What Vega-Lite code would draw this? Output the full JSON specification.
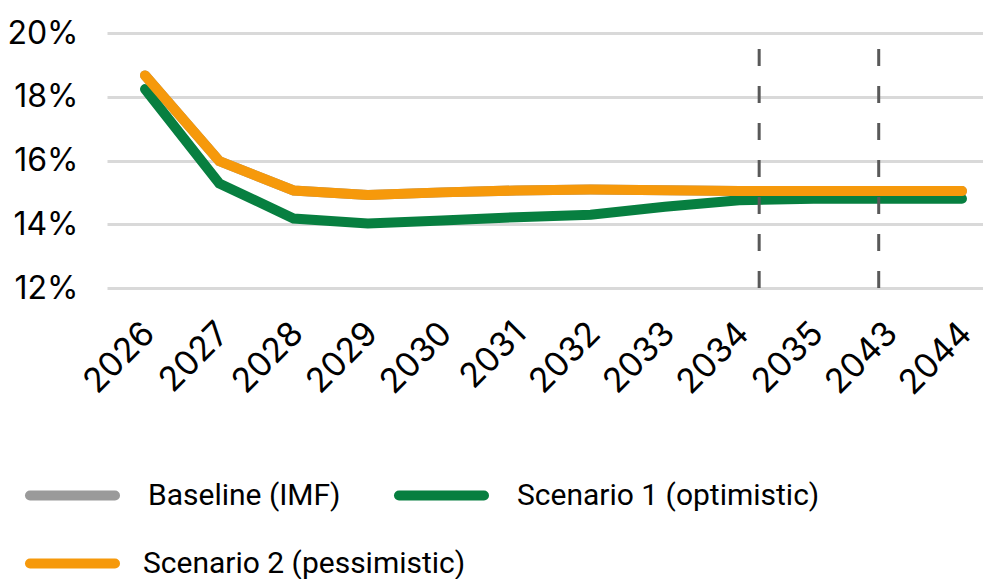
{
  "$schema": "https://vega.github.io/schema/vega-lite/v6.json",
  "width": 876,
  "height": 255,
  "autosize": {"type": "none"},
  "padding": {"left": 107, "top": 33, "right": 0, "bottom": 291},
  "background": "white",
  "config": {
    "view": {"stroke": null},
    "axis": {"labelColor": "#000000", "labelFont": "Inter", "labelFontSize": 32, "title": null, "domain": false, "ticks": false},
    "legend": {
      "title": null,
      "orient": "none",
      "direction": "horizontal",
      "symbolType": "stroke",
      "symbolSize": 7225,
      "symbolStrokeWidth": 10,
      "labelFont": "Roboto",
      "labelFontSize": 30,
      "labelColor": "#000000",
      "labelLimit": 600,
      "gridAlign": "none"
    }
  },
  "datasets": {
    "paths": [
      {"year": "2026", "series": "Baseline (IMF)", "value": 18.67},
      {"year": "2027", "series": "Baseline (IMF)", "value": 15.98},
      {"year": "2028", "series": "Baseline (IMF)", "value": 15.06},
      {"year": "2029", "series": "Baseline (IMF)", "value": 14.92},
      {"year": "2030", "series": "Baseline (IMF)", "value": 15.0},
      {"year": "2031", "series": "Baseline (IMF)", "value": 15.06},
      {"year": "2032", "series": "Baseline (IMF)", "value": 15.09},
      {"year": "2033", "series": "Baseline (IMF)", "value": 15.07},
      {"year": "2034", "series": "Baseline (IMF)", "value": 15.04},
      {"year": "2035", "series": "Baseline (IMF)", "value": 15.04},
      {"year": "2043", "series": "Baseline (IMF)", "value": 15.04},
      {"year": "2044", "series": "Baseline (IMF)", "value": 15.04},
      {"year": "2026", "series": "Scenario 1 (optimistic)", "value": 18.24},
      {"year": "2027", "series": "Scenario 1 (optimistic)", "value": 15.28},
      {"year": "2028", "series": "Scenario 1 (optimistic)", "value": 14.18},
      {"year": "2029", "series": "Scenario 1 (optimistic)", "value": 14.02},
      {"year": "2030", "series": "Scenario 1 (optimistic)", "value": 14.12},
      {"year": "2031", "series": "Scenario 1 (optimistic)", "value": 14.22},
      {"year": "2032", "series": "Scenario 1 (optimistic)", "value": 14.3},
      {"year": "2033", "series": "Scenario 1 (optimistic)", "value": 14.55},
      {"year": "2034", "series": "Scenario 1 (optimistic)", "value": 14.75},
      {"year": "2035", "series": "Scenario 1 (optimistic)", "value": 14.8},
      {"year": "2043", "series": "Scenario 1 (optimistic)", "value": 14.8},
      {"year": "2044", "series": "Scenario 1 (optimistic)", "value": 14.8},
      {"year": "2026", "series": "Scenario 2 (pessimistic)", "value": 18.67},
      {"year": "2027", "series": "Scenario 2 (pessimistic)", "value": 15.98},
      {"year": "2028", "series": "Scenario 2 (pessimistic)", "value": 15.06},
      {"year": "2029", "series": "Scenario 2 (pessimistic)", "value": 14.92},
      {"year": "2030", "series": "Scenario 2 (pessimistic)", "value": 15.0},
      {"year": "2031", "series": "Scenario 2 (pessimistic)", "value": 15.06},
      {"year": "2032", "series": "Scenario 2 (pessimistic)", "value": 15.09},
      {"year": "2033", "series": "Scenario 2 (pessimistic)", "value": 15.07},
      {"year": "2034", "series": "Scenario 2 (pessimistic)", "value": 15.04},
      {"year": "2035", "series": "Scenario 2 (pessimistic)", "value": 15.04},
      {"year": "2043", "series": "Scenario 2 (pessimistic)", "value": 15.04},
      {"year": "2044", "series": "Scenario 2 (pessimistic)", "value": 15.04}
    ],
    "breaks": [
      {"year": "2034", "low": 12, "high": 19.78},
      {"year": "2043", "low": 12, "high": 19.78}
    ]
  },
  "resolve": {"scale": {"color": "independent"}, "legend": {"color": "independent"}},
  "layer": [
    {
      "data": {"name": "paths"},
      "transform": [{"filter": "datum.series != 'Scenario 2 (pessimistic)'"}],
      "mark": {"type": "line", "strokeWidth": 10, "strokeCap": "round", "strokeJoin": "miter"},
      "encoding": {
        "x": {
          "field": "year",
          "type": "ordinal",
          "scale": {"type": "point", "padding": 0.3975, "align": 0.644},
          "axis": {"labelAngle": -45, "labelPadding": 28, "labelOffset": -8, "labelFontSize": 34, "grid": false}
        },
        "y": {
          "field": "value",
          "type": "quantitative",
          "scale": {"domain": [12, 20], "nice": false, "zero": false},
          "axis": {
            "values": [12, 14, 16, 18, 20],
            "labelExpr": "datum.value + '%'",
            "labelPadding": 29,
            "grid": true,
            "gridColor": "#d9d9d9",
            "gridWidth": 3
          }
        },
        "color": {
          "field": "series",
          "type": "nominal",
          "scale": {
            "domain": ["Baseline (IMF)", "Scenario 1 (optimistic)"],
            "range": ["#9a9a9a", "#077f40"]
          },
          "legend": {
            "legendX": -82,
            "legendY": 415,
            "columns": 2,
            "labelOffset": 28,
            "columnPadding": 38,
            "encode": {"symbols": {"update": {"strokeCap": {"value": "round"}}}}
          }
        }
      }
    },
    {
      "data": {"name": "paths"},
      "transform": [{"filter": "datum.series == 'Scenario 2 (pessimistic)'"}],
      "mark": {"type": "line", "strokeWidth": 10, "strokeCap": "round", "strokeJoin": "miter"},
      "encoding": {
        "x": {"field": "year", "type": "ordinal"},
        "y": {"field": "value", "type": "quantitative"},
        "color": {
          "field": "series",
          "type": "nominal",
          "scale": {"domain": ["Scenario 2 (pessimistic)"], "range": ["#f6990b"]},
          "legend": {
            "legendX": -82,
            "legendY": 483,
            "labelOffset": 23,
            "encode": {"symbols": {"update": {"strokeCap": {"value": "round"}}}}
          }
        }
      }
    },
    {
      "data": {"name": "breaks"},
      "transform": [{"filter": "datum.year == '2034'"}],
      "mark": {"type": "rule", "color": "#595959", "strokeWidth": 3, "strokeDash": [17, 20], "xOffset": 20},
      "encoding": {
        "x": {"field": "year", "type": "ordinal"},
        "y": {"field": "low", "type": "quantitative"},
        "y2": {"field": "high"}
      }
    },
    {
      "data": {"name": "breaks"},
      "transform": [{"filter": "datum.year == '2043'"}],
      "mark": {"type": "rule", "color": "#595959", "strokeWidth": 3, "strokeDash": [17, 20], "xOffset": -9},
      "encoding": {
        "x": {"field": "year", "type": "ordinal"},
        "y": {"field": "low", "type": "quantitative"},
        "y2": {"field": "high"}
      }
    }
  ]
}
